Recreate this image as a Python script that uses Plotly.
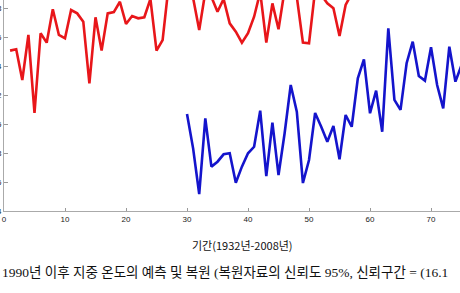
import plotly.graph_objects as go

# Reconstructed (red) series, years index 1..58
red_x = list(range(1, 59))
red_y = [15.506, 15.515, 15.303, 15.614, 15.076, 15.626, 15.561, 15.791, 15.614, 15.591,
         15.786, 15.763, 15.706, 15.281, 15.736, 15.506, 15.763, 15.772, 15.843, 15.690,
         15.745, 15.729, 15.736, 15.862, 15.506, 15.579, 15.959, 16.028, 15.993, 15.924,
         15.869, 15.648, 15.910, 15.876, 15.774, 15.862, 15.694, 15.637, 15.561, 15.626,
         15.740, 15.910, 15.561, 15.832, 15.653, 15.924, 15.959, 15.876, 15.561, 15.557,
         15.924, 15.890, 15.832, 15.798, 15.607, 15.821, 15.900, 15.990]

# Predicted (blue) series, years index 30..75
blue_x = list(range(30, 76))
blue_y = [15.069, 14.832, 14.517, 15.039, 14.706, 14.740, 14.791, 14.798, 14.595, 14.706,
          14.798, 14.843, 15.092, 14.641, 15.009, 14.648, 14.936, 15.269, 15.085, 14.593,
          14.752, 15.076, 14.981, 14.878, 14.986, 14.757, 15.062, 14.981, 15.315, 15.446,
          15.074, 15.230, 14.947, 15.660, 15.166, 15.097, 15.419, 15.568, 15.331, 15.299,
          15.529, 15.269, 15.108, 15.533, 15.292, 15.407]

x_ticks = [0, 10, 20, 30, 40, 50, 60, 70]
y_ticks = [14.4, 14.6, 14.8, 15.0, 15.2, 15.4, 15.6, 15.8]
y_ticktext = ["14.4", "14.6", "14.8", "15", "15.2", "15.4", "15.6", "15.8"]

x_title = "기간(1932년-2008년)"
caption = "1990년 이후 지중 온도의 예측 및 복원 (복원자료의 신뢰도 95%, 신뢰구간 = (16.1"

fig = go.Figure()
fig.add_trace(go.Scatter(x=red_x, y=red_y, mode="lines",
                         line=dict(color="#e8161a", width=2.6), showlegend=False))
fig.add_trace(go.Scatter(x=blue_x, y=blue_y, mode="lines",
                         line=dict(color="#1414cc", width=2.6), showlegend=False))

fig.update_layout(
    width=460, height=293,
    margin=dict(l=4, r=0, t=0, b=82, autoexpand=False),
    paper_bgcolor="white", plot_bgcolor="white",
    xaxis=dict(range=[0, 74.75], tickvals=x_ticks, ticks="inside", ticklen=3,
               tickcolor="#999", showline=True, linecolor="#aaa", linewidth=1,
               showgrid=False, zeroline=False, automargin=False,
               tickfont=dict(family="Liberation Sans", size=8, color="#222")),
    yaxis=dict(range=[14.4, 15.8552], tickvals=y_ticks, ticktext=y_ticktext,
               ticks="inside", ticklen=4, tickcolor="#999", showline=True,
               linecolor="#aaa", linewidth=1, showgrid=False, zeroline=False,
               automargin=False,
               tickfont=dict(family="Liberation Sans", size=8, color="#222")),
    annotations=[
        dict(text=x_title, xref="paper", yref="paper", x=(242.5 - 4) / 456, y=-(245 - 211) / 211,
             xanchor="center", yanchor="middle", showarrow=False,
             font=dict(family="Noto Sans CJK KR", size=11, color="#111")),
        dict(text=caption, xref="paper", yref="paper", x=-4 / 456, y=-(272 - 211) / 211,
             xanchor="left", yanchor="middle", showarrow=False,
             font=dict(family="Liberation Serif, Noto Sans CJK KR", size=13.5, color="#111")),
    ],
)

fig.write_html("out.html")
